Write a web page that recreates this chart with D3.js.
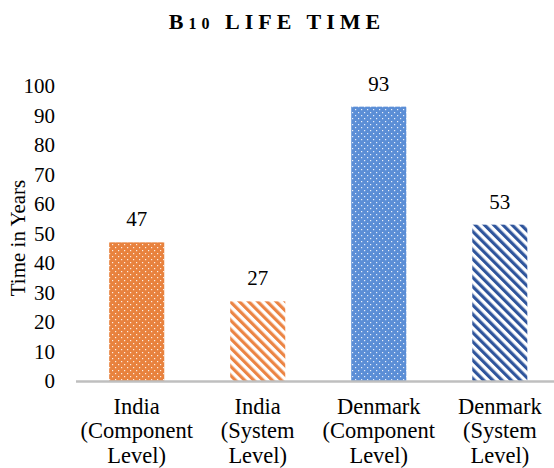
<!DOCTYPE html>
<html><head><meta charset="utf-8">
<script src="https://cdn.jsdelivr.net/npm/d3@7/dist/d3.min.js"></script>
<style>body{margin:0;background:#fff;} svg{display:block;} text{font-family:'Liberation Serif','Times New Roman',serif;fill:#000;}</style>
</head><body>
<script>
const categories = [["India","(Component","Level)"],["India","(System","Level)"],["Denmark","(Component","Level)"],["Denmark","(System","Level)"]];
const values = [47, 27, 93, 53];
const yTicks = [0,10,20,30,40,50,60,70,80,90,100];
const fills = ["dotOrange","stripeOrange","dotBlue","stripeBlue"];

const W = 554, H = 468;
const svg = d3.select("body").append("svg").attr("width", W).attr("height", H);
const defs = svg.append("defs");

function dots(id, bg){
  const p = defs.append("pattern").attr("id", id).attr("patternUnits","userSpaceOnUse").attr("width",6).attr("height",6);
  p.append("rect").attr("width",6).attr("height",6).attr("fill",bg);
  p.append("rect").attr("x",1).attr("y",1).attr("width",1.2).attr("height",1.2).attr("fill","#fff").attr("opacity",0.85);
  p.append("rect").attr("x",4).attr("y",4).attr("width",1.2).attr("height",1.2).attr("fill","#fff").attr("opacity",0.85);
}
function stripes(id, col){
  const p = defs.append("pattern").attr("id", id).attr("patternUnits","userSpaceOnUse").attr("width",6.5).attr("height",6.5)
    .attr("patternTransform","rotate(-45)");
  p.append("rect").attr("width",6.5).attr("height",6.5).attr("fill","#fff");
  p.append("rect").attr("x",0).attr("width",3.2).attr("height",6.5).attr("fill",col);
}
dots("dotOrange","#E8823E");
stripes("stripeOrange","#EB8444");
dots("dotBlue","#5B8ED6");
stripes("stripeBlue","#2F559C");

const x = d3.scaleBand().domain(d3.range(categories.length)).range([76.5, 560]).paddingInner(0.545).paddingOuter(0.27);
const y = d3.scaleLinear().domain([0,100]).range([381, 86]);

// title
const t = svg.append("text").attr("x", 277).attr("y", 29).attr("text-anchor","middle")
  .attr("font-weight","bold").attr("font-size",22).attr("letter-spacing","5px");
t.append("tspan").text("B");
t.append("tspan").attr("font-size",16).text("10");
t.append("tspan").text(" LIFE TIME");

// y axis labels
const yAxis = d3.axisLeft(y).tickValues(yTicks).tickSize(0).tickPadding(0).tickFormat(d3.format("d"));
const ga = svg.append("g").attr("transform","translate(55,0)").call(yAxis);
ga.select(".domain").remove();
ga.selectAll("text").attr("font-family",null).attr("font-size",21).attr("fill","#000");

svg.append("text").attr("transform","translate(25,238) rotate(-90)").attr("text-anchor","middle")
  .attr("font-size",21).text("Time in Years");

// bars
svg.selectAll("rect.bar").data(values).join("rect").attr("class","bar")
  .attr("x",(d,i)=>x(i)).attr("width",x.bandwidth())
  .attr("y",d=>y(d)).attr("height",d=>y(0)-y(d))
  .attr("fill",(d,i)=>`url(#${fills[i]})`);

// values
svg.selectAll("text.val").data(values).join("text").attr("class","val")
  .attr("x",(d,i)=>x(i)+x.bandwidth()/2).attr("y",d=>y(d)-16)
  .attr("text-anchor","middle").attr("font-size",21)
  .text(d=>d);

// baseline
svg.append("line").attr("x1",76).attr("x2",554).attr("y1",381.5).attr("y2",381.5).attr("stroke","#BFBFBF").attr("stroke-width",2.5);

// category labels
const cl = svg.selectAll("text.cat").data(categories).join("text").attr("class","cat")
  .attr("text-anchor","middle").attr("font-size",22.5);
cl.each(function(lines,i){
  const s = d3.select(this);
  lines.forEach((l,j)=>{
    s.append("tspan").attr("x",x(i)+x.bandwidth()/2).attr("y",414+j*24.3).text(l);
  });
});
</script>
</body></html>
